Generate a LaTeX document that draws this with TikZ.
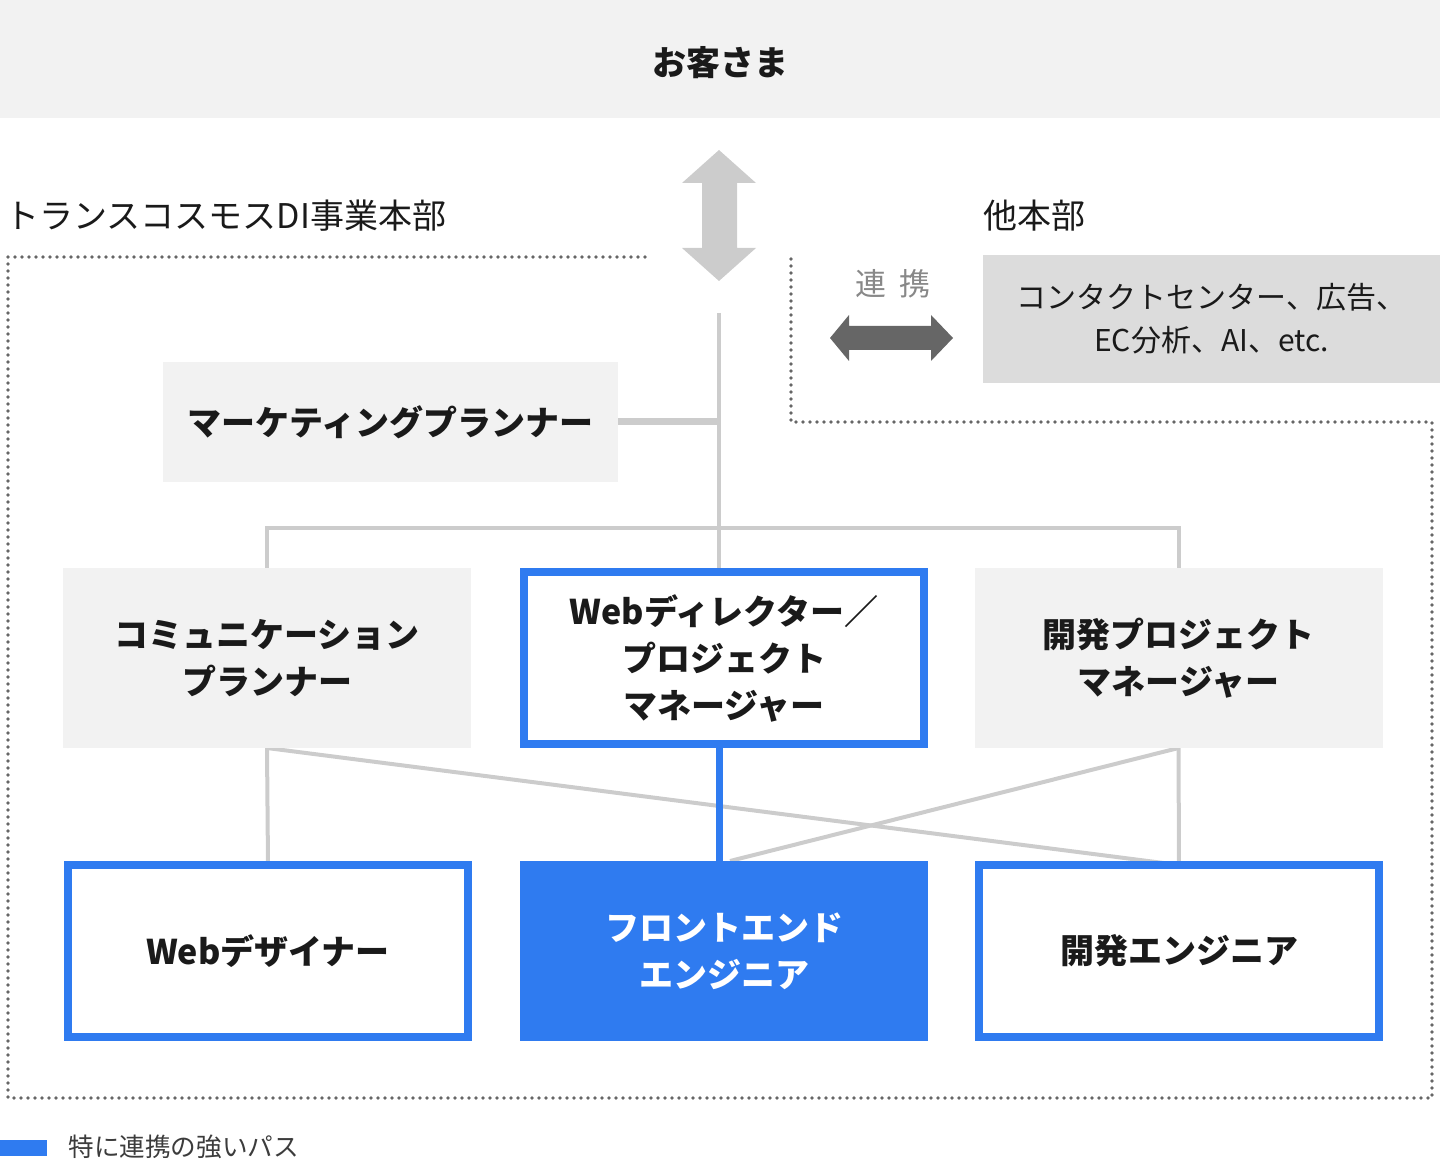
\documentclass[tikz,border=0pt]{standalone}
\usepackage{fontspec}
\setmainfont{Noto Sans CJK JP}
\usetikzlibrary{backgrounds}
\definecolor{lightbox}{HTML}{F2F2F2}
\definecolor{midbox}{HTML}{DCDCDC}
\definecolor{linegray}{HTML}{CCCCCC}
\definecolor{keyblue}{HTML}{2F7BF0}
\definecolor{darkarrow}{HTML}{666666}
\definecolor{dotgray}{HTML}{666666}
\definecolor{txt}{HTML}{1A1A1A}
\definecolor{softtxt}{HTML}{888888}
\begin{document}
\begin{tikzpicture}[x=0.5pt,y=-0.5pt,
  lbl/.style={font=\bfseries\fontsize{17pt}{23.5pt}\selectfont, text=txt, align=center, inner sep=0pt, outer sep=0pt},
  graybox/.style={lbl, fill=lightbox, minimum width=204pt, minimum height=90pt},
  bluebox/.style={lbl, draw=keyblue, line width=4pt, fill=white, minimum width=200pt, minimum height=86pt},
  filledbox/.style={lbl, fill=keyblue, text=white, minimum width=204pt, minimum height=90pt},
  plain/.style={font=\fontsize{17pt}{20pt}\selectfont, text=txt, inner sep=0pt, anchor=west},
  conn/.style={draw=linegray, line width=2pt},
  thickconn/.style={draw=linegray, line width=3.5pt},
  blueconn/.style={draw=keyblue, line width=3.5pt},
  boundary/.style={draw=dotgray, line width=1.8pt, line cap=round, dash pattern=on 0pt off 3.5pt}
]
\useasboundingbox (0,0) rectangle (1440,1160);

% customer
\node[lbl, fill=lightbox, minimum width=720pt, minimum height=59pt, text depth=0pt] (cust) at (720,59) {\raisebox{-2pt}{お客さま}};

% big vertical double arrow
\fill[linegray] (719,150) -- (756,183) -- (737,183) -- (737,248) -- (756,248) -- (719,281)
  -- (682,248) -- (702,248) -- (702,183) -- (682,183) -- cycle;

% section labels
\node[plain] (dilabel) at (5,216) {トランスコスモスDI事業本部};
\node[plain] (otherlabel) at (983,216) {他本部};

% dotted boundary
\draw[boundary] (645,257) -- (8,257) -- (8,1098) -- (1432,1098) -- (1432,422) -- (791,422) -- (791,252);

% other division box
\node[font=\fontsize{15pt}{21.5pt}\selectfont, text=txt, align=center, fill=midbox,
  minimum width=228.5pt, minimum height=64pt, inner sep=0pt] (other) at (1211.5,319)
  {コンタクトセンター、広告、\\EC分析、AI、etc.};
\node[font=\fontsize{15.5pt}{18pt}\selectfont, text=softtxt, inner sep=0pt] (renkei) at (893,284) {連\hspace{7pt}携};
\fill[darkarrow] (830,338) -- (849,315) -- (849,326) -- (931,326) -- (931,315) -- (953,338)
  -- (931,361) -- (931,350) -- (849,350) -- (849,361) -- cycle;

% role boxes
\node[lbl, fill=lightbox, minimum width=227.5pt, minimum height=60pt] (mkt) at (390.5,422) {マーケティングプランナー};
\node[graybox] (comm) at (267,658) {コミュニケーション\\プランナー};
\node[bluebox] (wd) at (724,658) {Webディレクター／\\プロジェクト\\マネージャー};
\node[graybox] (dpm) at (1178.5,658) {開発プロジェクト\\マネージャー};
\node[bluebox] (wdes) at (268,951) {Webデザイナー};
\node[filledbox] (fe) at (724,951) {フロントエンド\\エンジニア};
\node[bluebox] (deng) at (1179,951) {開発エンジニア};

\coordinate (ctop) at (719,313);
\coordinate (hbar) at (719,528);

\begin{scope}[on background layer]
  \draw[conn] (ctop) -- (ctop |- wd.north);
  \draw[thickconn] (mkt.east) -- (mkt.east -| ctop);
  \draw[conn] (comm.north) |- (hbar) -| (dpm.north);
  \draw[conn] (comm.south) -- (wdes.north);
  \draw[conn] (dpm.south) -- (deng.north);
  \draw[conn] (comm.south) -- (deng.north);
  \draw[conn] (dpm.south) -- ([xshift=3pt]fe.north);
  \draw[blueconn] (wd.south -| ctop) -- (fe.north -| ctop);
\end{scope}

% legend
\node[fill=keyblue, minimum width=23.5pt, minimum height=8pt, inner sep=0pt] (legkey) at (23.5,1148) {};
\node[font=\fontsize{12.8pt}{15pt}\selectfont, text=txt!85, inner sep=0pt, anchor=west] (legtxt) at (68,1147) {特に連携の強いパス};
\end{tikzpicture}
\end{document}
